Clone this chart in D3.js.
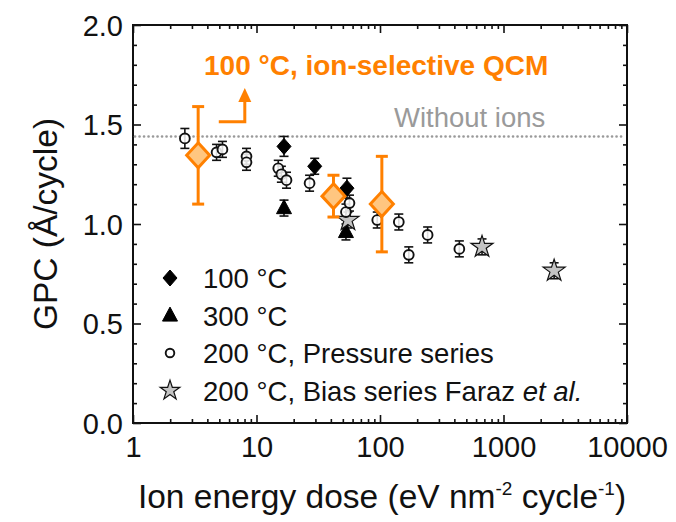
<!DOCTYPE html>
<html>
<head>
<meta charset="utf-8">
<script src="https://cdn.jsdelivr.net/npm/d3@7"></script>
<style>
  html, body { margin: 0; padding: 0; background: #fff; }
  svg { display: block; }
  text { font-family: "Liberation Sans", Arial, sans-serif; }
</style>
</head>
<body>
<svg id="chart" width="676" height="522"></svg>
<script>
// GPC versus ion energy dose, by deposition condition
// Each entry: [dose (eV nm^-2 cycle^-1), GPC (Å/cycle), error]
const pressureSeries200 = [
  [2.63, 1.43, 0.05], [4.75, 1.36, 0.04], [5.3, 1.375, 0.04],
  [8.3, 1.34, 0.04], [8.3, 1.31, 0.04], [15.0, 1.28, 0.04],
  [15.9, 1.25, 0.04], [17.5, 1.22, 0.04], [26.9, 1.205, 0.04],
  [53, 1.06, 0.04], [56.6, 1.105, 0.04], [95, 1.02, 0.04],
  [142, 1.01, 0.04], [171, 0.845, 0.04], [243, 0.945, 0.04],
  [439, 0.875, 0.04]
];
const series100 = [[16.7, 1.39, 0.05], [29.6, 1.29, 0.04], [54, 1.18, 0.05]];
const series300 = [[16.7, 1.08, 0.04], [53, 0.96, 0.04]];
const biasSeries200 = [[55, 1.02, 0.04], [670, 0.885, 0.04], [2570, 0.765, 0.04]];
const qcm100 = [[3.37, 1.345, 0.245], [42, 1.14, 0.105], [103.5, 1.10, 0.24]];
const withoutIonsGPC = 1.44;

const xTicks = [1, 10, 100, 1000, 10000];
const yTicks = [0.0, 0.5, 1.0, 1.5, 2.0];
const legendLabels = ["100 °C", "300 °C", "200 °C, Pressure series", "200 °C, Bias series Faraz "];

const W = 676, H = 522;
const m = { left: 133, right: 49, top: 25, bottom: 99 };
const svg = d3.select("#chart");

const x = d3.scaleLog().domain([1, 10000]).range([m.left, W - m.right]);
const y = d3.scaleLinear().domain([0, 2]).range([H - m.bottom, m.top]);

const ORANGE = "#ff8000";
const ORANGE_FILL = "#ffc680";

// minor ticks
const xMinor = [];
for (let d = 1; d < 10000; d *= 10) for (let k = 2; k <= 9; k++) xMinor.push(d * k);
const yMinor = d3.range(0, 21).map(i => i / 10).filter(v => Math.abs(v * 2 - Math.round(v * 2)) > 1e-6);

function styleAxis(g) {
  g.select(".domain").remove();
  g.selectAll(".tick line").attr("stroke", "#111").attr("stroke-width", 1.6);
}

// bottom axis
svg.append("g").attr("transform", `translate(0,${H - m.bottom})`)
  .call(d3.axisBottom(x).tickValues(xTicks).tickSizeInner(-8).tickSizeOuter(0).tickPadding(14)
    .tickFormat(d3.format("d")))
  .call(styleAxis)
  .call(g => g.selectAll(".tick text").attr("font-size", 29).attr("fill", "#111")
    .attr("dy", null).attr("y", 34));
svg.append("g").attr("transform", `translate(0,${H - m.bottom})`)
  .call(d3.axisBottom(x).tickValues(xMinor).tickSize(-4).tickFormat(""))
  .call(styleAxis);
// top axis
svg.append("g").attr("transform", `translate(0,${m.top})`)
  .call(d3.axisTop(x).tickValues(xTicks).tickSize(-8).tickFormat(""))
  .call(styleAxis);
svg.append("g").attr("transform", `translate(0,${m.top})`)
  .call(d3.axisTop(x).tickValues(xMinor).tickSize(-4).tickFormat(""))
  .call(styleAxis);
// left axis
svg.append("g").attr("transform", `translate(${m.left},0)`)
  .call(d3.axisLeft(y).tickValues(yTicks).tickSizeInner(-8).tickSizeOuter(0).tickPadding(12)
    .tickFormat(d3.format(".1f")))
  .call(styleAxis)
  .call(g => g.selectAll(".tick text").attr("font-size", 29).attr("fill", "#111")
    .attr("x", -10).attr("dy", "0.36em"));
svg.append("g").attr("transform", `translate(${m.left},0)`)
  .call(d3.axisLeft(y).tickValues(yMinor).tickSize(-4).tickFormat(""))
  .call(styleAxis);
// right axis
svg.append("g").attr("transform", `translate(${W - m.right},0)`)
  .call(d3.axisRight(y).tickValues(yTicks).tickSize(-8).tickFormat(""))
  .call(styleAxis);
svg.append("g").attr("transform", `translate(${W - m.right},0)`)
  .call(d3.axisRight(y).tickValues(yMinor).tickSize(-4).tickFormat(""))
  .call(styleAxis);

// frame
svg.append("rect")
  .attr("x", m.left).attr("y", m.top)
  .attr("width", W - m.left - m.right).attr("height", H - m.top - m.bottom)
  .attr("fill", "none").attr("stroke", "#111").attr("stroke-width", 2);

// reference line without ions
svg.append("line")
  .attr("x1", m.left + 2).attr("x2", W - m.right - 2)
  .attr("y1", y(withoutIonsGPC)).attr("y2", y(withoutIonsGPC))
  .attr("stroke", "#9a9a9a").attr("stroke-width", 2.6)
  .attr("stroke-linecap", "round").attr("stroke-dasharray", "0.1 4.4");
svg.append("text").attr("x", 394).attr("y", 127)
  .attr("font-size", 27.5).attr("fill", "#9a9a9a").text("Without ions");

// marker shapes
const diamondPath = (hw, hh) => `M0,${-hh}L${hw},0L0,${hh}L${-hw},0Z`;
const trianglePath = (hw, h) => `M0,${-h * 0.6}L${hw},${h * 0.4}L${-hw},${h * 0.4}Z`;
const starPath = d3.symbol(d3.symbolStar, 150)();
const starLegendPath = d3.symbol(d3.symbolStar, 120)();

function errorBars(data, color, width, cap) {
  const g = svg.append("g").attr("stroke", color).attr("stroke-width", width).attr("fill", "none");
  data.forEach(([dx, dy, e]) => {
    const px = x(dx);
    g.append("line").attr("x1", px).attr("x2", px).attr("y1", y(dy - e)).attr("y2", y(dy + e));
    g.append("line").attr("x1", px - cap).attr("x2", px + cap).attr("y1", y(dy - e)).attr("y2", y(dy - e));
    g.append("line").attr("x1", px - cap).attr("x2", px + cap).attr("y1", y(dy + e)).attr("y2", y(dy + e));
  });
}

function markers(data, path, fill, stroke, sw) {
  svg.append("g").selectAll("path").data(data).join("path")
    .attr("transform", d => `translate(${x(d[0])},${y(d[1])})`)
    .attr("d", path).attr("fill", fill).attr("stroke", stroke).attr("stroke-width", sw);
}

errorBars(pressureSeries200, "#111", 1.6, 4.5);
errorBars(series100, "#111", 1.6, 4.5);
errorBars(series300, "#111", 1.6, 4.5);
errorBars(biasSeries200, "#111", 1.6, 4.5);

markers(series300, trianglePath(7.5, 14), "#000", "#000", 1);
markers(series100, diamondPath(7, 8), "#000", "#000", 1);
markers(biasSeries200, starPath, "#c4c4c4", "#111", 1.2);
svg.append("g").selectAll("circle").data(pressureSeries200).join("circle")
  .attr("cx", d => x(d[0])).attr("cy", d => y(d[1])).attr("r", 4.9)
  .attr("fill", "#fff").attr("fill-opacity", 0.85).attr("stroke", "#111").attr("stroke-width", 1.9);

// ion-selective QCM
errorBars(qcm100, ORANGE, 3, 6);
markers(qcm100, diamondPath(11.5, 12.5), ORANGE_FILL, ORANGE, 3);

// annotation for QCM
svg.append("text").attr("x", 204).attr("y", 75)
  .attr("font-size", 28).attr("font-weight", "bold").attr("fill", ORANGE)
  .text("100 °C, ion-selective QCM");
const ax0 = x(4.95), ax1 = x(8.04), ay0 = y(1.514), ay1 = y(1.683);
svg.append("path")
  .attr("d", `M${ax0},${ay0}H${ax1}V${ay1 + 12}`)
  .attr("fill", "none").attr("stroke", ORANGE).attr("stroke-width", 3);
svg.append("path")
  .attr("d", `M${ax1},${ay1}L${ax1 + 6.5},${ay1 + 14}L${ax1 - 6.5},${ay1 + 14}Z`)
  .attr("fill", ORANGE);

// legend
const lgX = 170, lgTextX = 203, lgY0 = 278, lgDy = 37.5;
const lgShapes = [
  { d: diamondPath(7, 8), fill: "#000", stroke: "#000", sw: 1 },
  { d: trianglePath(7.5, 14), fill: "#000", stroke: "#000", sw: 1 },
  { circle: true },
  { d: starLegendPath, fill: "#c4c4c4", stroke: "#111", sw: 1.2 }
];
const lg = svg.append("g");
legendLabels.forEach((lab, i) => {
  const cy = lgY0 + i * lgDy;
  const s = lgShapes[i];
  if (s.circle) {
    lg.append("circle").attr("cx", lgX).attr("cy", cy).attr("r", 4.3)
      .attr("fill", "#fff").attr("stroke", "#111").attr("stroke-width", 1.9);
  } else {
    lg.append("path").attr("transform", `translate(${lgX},${cy})`)
      .attr("d", s.d).attr("fill", s.fill).attr("stroke", s.stroke).attr("stroke-width", s.sw);
  }
  const t = lg.append("text").attr("x", lgTextX).attr("y", cy + 10)
    .attr("font-size", 27.5).attr("fill", "#111").text(lab);
  if (i === 3) t.append("tspan").attr("font-style", "italic").text("et al.");
});

// axis titles
const xt = svg.append("text").attr("x", 382).attr("y", 508).attr("text-anchor", "middle")
  .attr("font-size", 33.5).attr("fill", "#111");
xt.append("tspan").text("Ion energy dose (eV nm");
xt.append("tspan").attr("font-size", 19).attr("dy", -13).text("-2");
xt.append("tspan").attr("dy", 13).text(" cycle");
xt.append("tspan").attr("font-size", 19).attr("dy", -13).text("-1");
xt.append("tspan").attr("dy", 13).text(")");

svg.append("text")
  .attr("transform", `translate(57,${(m.top + H - m.bottom) / 2}) rotate(-90)`)
  .attr("text-anchor", "middle").attr("font-size", 33.5).attr("fill", "#111")
  .text("GPC (Å/cycle)");
</script>
</body>
</html>
